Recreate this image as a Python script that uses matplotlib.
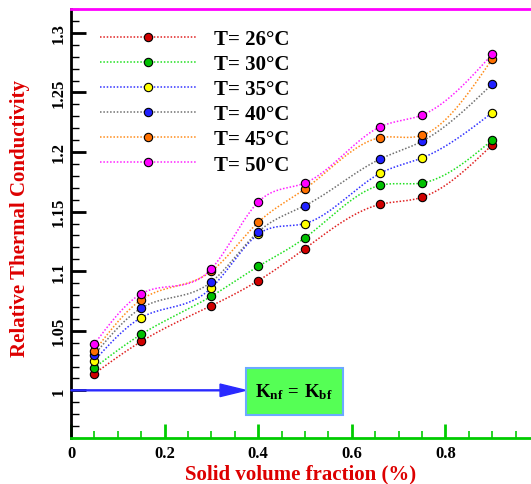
import numpy as np
import matplotlib
matplotlib.use("Agg")
import matplotlib.pyplot as plt
from matplotlib.ticker import MultipleLocator, FixedLocator
from matplotlib.patches import FancyArrow, Rectangle

plt.rcParams['font.family'] = ['Liberation Serif', 'DejaVu Serif']
plt.rcParams['font.weight'] = 'bold'
plt.rcParams['mathtext.fontset'] = 'custom'
plt.rcParams['mathtext.rm'] = 'Liberation Serif:bold'
plt.rcParams['mathtext.bf'] = 'Liberation Serif:bold'
plt.rcParams['mathtext.it'] = 'Liberation Serif:bold'

x = [0.05, 0.15, 0.3, 0.4, 0.5, 0.66, 0.75, 0.9]
labels = ['T= 26°C', 'T= 30°C', 'T= 35°C', 'T= 40°C', 'T= 45°C', 'T= 50°C']
k26 = [1.014, 1.041, 1.071, 1.092, 1.119, 1.156, 1.162, 1.206]
k30 = [1.019, 1.047, 1.079, 1.104, 1.128, 1.172, 1.174, 1.210]
k35 = [1.025, 1.061, 1.086, 1.131, 1.140, 1.182, 1.195, 1.233]
k40 = [1.030, 1.069, 1.091, 1.133, 1.155, 1.194, 1.209, 1.257]
k45 = [1.033, 1.076, 1.100, 1.141, 1.169, 1.212, 1.214, 1.278]
k50 = [1.039, 1.081, 1.102, 1.158, 1.174, 1.221, 1.231, 1.282]
series = [k26, k30, k35, k40, k45, k50]

line_colors = ['#e02020', '#20e020', '#3030ff', '#707070', '#ff8c1a', '#ff20ff']
face_colors = ['#d00000', '#00c000', '#ffff00', '#2020ff', '#ff7000', '#ff00ff']


def natural_spline(xs, ys, n=300):
    xs = np.asarray(xs, float)
    ys = np.asarray(ys, float)
    m = len(xs)
    h = np.diff(xs)
    A = np.zeros((m, m))
    b = np.zeros(m)
    A[0, 0] = 1
    A[-1, -1] = 1
    for i in range(1, m - 1):
        A[i, i - 1] = h[i - 1]
        A[i, i] = 2 * (h[i - 1] + h[i])
        A[i, i + 1] = h[i]
        b[i] = 6 * ((ys[i + 1] - ys[i]) / h[i] - (ys[i] - ys[i - 1]) / h[i - 1])
    M = np.linalg.solve(A, b)
    xx = np.linspace(xs[0], xs[-1], n)
    yy = np.empty_like(xx)
    for j, xv in enumerate(xx):
        i = min(np.searchsorted(xs, xv, side='right') - 1, m - 2)
        t1 = xs[i + 1] - xv
        t0 = xv - xs[i]
        yy[j] = (M[i] * t1 ** 3 / (6 * h[i]) + M[i + 1] * t0 ** 3 / (6 * h[i])
                 + (ys[i] / h[i] - M[i] * h[i] / 6) * t1
                 + (ys[i + 1] / h[i] - M[i + 1] * h[i] / 6) * t0)
    return xx, yy


W, H = 531, 485
fig = plt.figure(figsize=(W / 100, H / 100), dpi=100)
ax = fig.add_axes([71 / W, 46 / H, 468 / W, 429 / H])
ax.set_xlim(0, 1.0)
ax.set_ylim(0.96, 1.32)

handles = []
for ys, lc, fc, lab in zip(series, line_colors, face_colors, labels):
    xx, yy = natural_spline(x, ys)
    ax.plot(xx, yy, color=lc, lw=1.1, dashes=(1, 1.2), zorder=2)
    ax.plot(x, ys, 'o', color=fc, mec='black', mew=0.8, ms=6, zorder=3)
    h, = ax.plot([], [], color=lc, lw=1.1, dashes=(1, 1.2), marker='o',
                 mfc=fc, mec='black', mew=0.8, ms=6)
    handles.append(h)

leg = ax.legend(handles, labels, loc='upper left',
                bbox_to_anchor=(100 / W, 1 - 30 / H), bbox_transform=fig.transFigure,
                frameon=False, numpoints=1, handlelength=4.6, handletextpad=0.85,
                labelspacing=0.245, borderpad=0, borderaxespad=0,
                prop={'family': 'Liberation Serif', 'weight': 'bold', 'size': 15})

# arrow and box
ax.add_patch(FancyArrow(0, 1.0, 0.3735, 0, width=0.0008, head_width=0.0105,
                        head_length=0.055, length_includes_head=True,
                        color='#2a2aff', zorder=4, clip_on=False))
ax.add_patch(Rectangle((0.3735, 0.979), 0.207, 0.0395, facecolor='#55ff55',
                       edgecolor='#6aaaff', lw=1.5, zorder=4))
ax.text(0.477, 0.9995, r'$\mathrm{K_{nf}\,=\,K_{bf}}$', ha='center',
        va='center', fontsize=13.5, zorder=5)

# spines
ax.spines['right'].set_visible(False)
ax.spines['left'].set_color('black')
ax.spines['left'].set_linewidth(2)
ax.spines['bottom'].set_color('#00cc00')
ax.spines['bottom'].set_linewidth(2)
ax.spines['top'].set_color('#ff00ff')
ax.spines['top'].set_linewidth(2)

ax.xaxis.set_major_locator(FixedLocator([0, 0.2, 0.4, 0.6, 0.8]))
ax.xaxis.set_minor_locator(MultipleLocator(0.05))
ax.yaxis.set_major_locator(FixedLocator([1.0, 1.05, 1.1, 1.15, 1.2, 1.25, 1.3]))
ax.yaxis.set_minor_locator(MultipleLocator(0.01))
ax.set_xticklabels(['0', '0.2', '0.4', '0.6', '0.8'])
ax.set_yticklabels(['1', '1.05', '1.1', '1.15', '1.2', '1.25', '1.3'])

ax.tick_params(axis='x', which='major', direction='in', length=10, width=2,
               color='#00cc00', pad=5, labelsize=12)
ax.tick_params(axis='x', which='minor', direction='in', length=5, width=1.2,
               color='#00cc00')
ax.tick_params(axis='y', which='major', direction='in', length=11, width=2,
               color='black', pad=3, labelsize=12, labelrotation=90)
ax.tick_params(axis='y', which='minor', direction='in', length=6, width=1,
               color='black')
for t in ax.get_yticklabels():
    t.set_va('center')
for t in ax.get_xticklabels() + ax.get_yticklabels():
    t.set_fontweight('bold')

fig.text(301 / W, 1 - 474 / H, 'Solid volume fraction (%)', color='#dd0000',
         fontsize=15, fontweight='bold', ha='center', va='center')
fig.text(20 / W, 1 - 219 / H, 'Relative Thermal Conductivity', color='#dd0000',
         fontsize=15, fontweight='bold', ha='center', va='center', rotation=90)

fig.savefig('out.png', dpi=100)
